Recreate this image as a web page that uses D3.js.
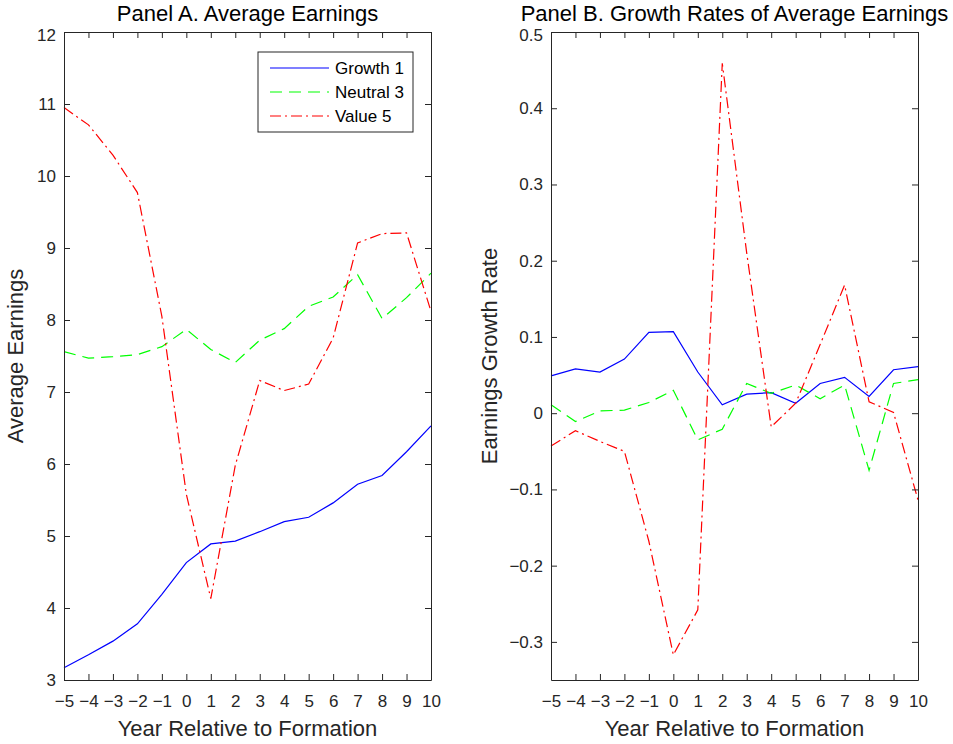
<!DOCTYPE html>
<html>
<head>
<meta charset="utf-8">
<script src="https://cdn.jsdelivr.net/npm/d3@7"></script>
<style>
  body { margin: 0; background: #fff; }
  text { font-family: 'Liberation Sans', Arial, Helvetica, sans-serif; }
</style>
</head>
<body>
<svg id="canvas"></svg>
<script>
// years relative to formation
const years = [-5, -4, -3, -2, -1, 0, 1, 2, 3, 4, 5, 6, 7, 8, 9, 10];

// Panel A: average earnings
const growthEarn  = [3.17, 3.35, 3.54, 3.78, 4.19, 4.63, 4.89, 4.93, 5.06, 5.20, 5.26, 5.46, 5.72, 5.84, 6.17, 6.53];
const neutralEarn = [7.56, 7.47, 7.49, 7.52, 7.63, 7.87, 7.59, 7.41, 7.72, 7.88, 8.19, 8.32, 8.63, 8.02, 8.31, 8.65];
const valueEarn   = [10.95, 10.71, 10.29, 9.77, 8.05, 5.58, 4.13, 5.98, 7.16, 7.02, 7.11, 7.75, 9.07, 9.20, 9.21, 8.12];

// Panel B: growth rates of average earnings
const growthRate  = [0.049, 0.058, 0.054, 0.071, 0.106, 0.107, 0.054, 0.011, 0.025, 0.027, 0.013, 0.039, 0.047, 0.022, 0.057, 0.061];
const neutralRate = [0.011, -0.011, 0.003, 0.004, 0.014, 0.030, -0.035, -0.021, 0.039, 0.026, 0.037, 0.019, 0.037, -0.075, 0.039, 0.044];
const valueRate   = [-0.043, -0.023, -0.037, -0.050, -0.168, -0.317, -0.258, 0.459, 0.210, -0.018, 0.013, 0.090, 0.168, 0.015, 0.001, -0.114];

const seriesNames = ['Growth 1', 'Neutral 3', 'Value 5'];
const yTicksA = [3, 4, 5, 6, 7, 8, 9, 10, 11, 12];
const yTicksB = [-0.3, -0.2, -0.1, 0, 0.1, 0.2, 0.3, 0.4, 0.5];

const width = 953;
const height = 744;
const axisColor = '#262626';
const styles = [
  { color: '#0000ff', dash: null },
  { color: '#00ff00', dash: '12,7' },
  { color: '#ff0000', dash: '11,4,2,4' }
];

const svg = d3.select('#canvas')
  .attr('width', width)
  .attr('height', height);

const plotTop = 32, plotBottom = 680;

const drawPanel = (opts) => {
  const xScale = d3.scaleLinear().domain([-5, 10]).range([opts.left, opts.right]);
  const yScale = d3.scaleLinear().domain(opts.yDomain).range([plotBottom, plotTop]);
  const g = svg.append('g');

  const styleAxis = (sel) => {
    sel.select('.domain').attr('stroke', axisColor).attr('stroke-width', 1);
    sel.selectAll('.tick line').attr('stroke', axisColor);
    sel.selectAll('.tick text')
      .attr('fill', axisColor)
      .style('font-size', '17px')
      .style('font-family', "'Liberation Sans', Arial, sans-serif");
  };

  // lines first so the frame sits on top
  const line = d3.line()
    .x((d, i) => xScale(years[i]))
    .y(d => yScale(d));

  opts.series.forEach((vals, k) => {
    g.append('path')
      .datum(vals)
      .attr('fill', 'none')
      .attr('stroke', styles[k].color)
      .attr('stroke-width', 1.2)
      .attr('stroke-dasharray', styles[k].dash)
      .attr('d', line);
  });

  g.append('g')
    .attr('transform', 'translate(0,' + plotBottom + ')')
    .call(d3.axisBottom(xScale).tickValues(years).tickFormat(d3.format('d'))
      .tickSizeInner(-6).tickSizeOuter(0).tickPadding(15))
    .call(styleAxis);

  g.append('g')
    .attr('transform', 'translate(0,' + plotTop + ')')
    .call(d3.axisTop(xScale).tickValues(years).tickFormat('')
      .tickSizeInner(-6).tickSizeOuter(0))
    .call(styleAxis);

  const yAxisG = g.append('g')
    .attr('transform', 'translate(' + opts.left + ',0)')
    .call(d3.axisLeft(yScale).tickValues(opts.yTicks).tickFormat(opts.fmt)
      .tickSizeInner(-6).tickSizeOuter(0).tickPadding(8))
    .call(styleAxis);
  // top label sits a little lower, as in the original
  yAxisG.selectAll('.tick text')
    .filter(d => d === opts.yDomain[1])
    .attr('dy', '0.5em');

  g.append('g')
    .attr('transform', 'translate(' + opts.right + ',0)')
    .call(d3.axisRight(yScale).tickValues(opts.yTicks).tickFormat('')
      .tickSizeInner(-6).tickSizeOuter(0))
    .call(styleAxis);

  const cx = (opts.left + opts.right) / 2;

  g.append('text')
    .attr('x', cx)
    .attr('y', 21)
    .attr('text-anchor', 'middle')
    .style('font-size', '22px')
    .attr('fill', '#000')
    .text(opts.title);

  g.append('text')
    .attr('x', cx)
    .attr('y', 736)
    .attr('text-anchor', 'middle')
    .style('font-size', '22px')
    .attr('fill', axisColor)
    .text('Year Relative to Formation');

  g.append('text')
    .attr('transform', 'translate(' + opts.ylabelX + ',' + ((plotTop + plotBottom) / 2) + ') rotate(-90)')
    .attr('text-anchor', 'middle')
    .style('font-size', '22px')
    .attr('fill', axisColor)
    .text(opts.ylabel);

  return g;
};

const panelA = drawPanel({
  left: 64, right: 431,
  yDomain: [3, 12], yTicks: yTicksA, fmt: d3.format('d'),
  series: [growthEarn, neutralEarn, valueEarn],
  title: 'Panel A. Average Earnings',
  ylabel: 'Average Earnings', ylabelX: 23
});

drawPanel({
  left: 551, right: 918,
  yDomain: [-0.35, 0.5], yTicks: yTicksB,
  fmt: d => d === 0 ? '0' : d3.format('.1f')(d),
  series: [growthRate, neutralRate, valueRate],
  title: 'Panel B. Growth Rates of Average Earnings',
  ylabel: 'Earnings Growth Rate', ylabelX: 497
});

// legend in panel A
const legend = panelA.append('g').attr('transform', 'translate(258,52)');
legend.append('rect')
  .attr('width', 155).attr('height', 80)
  .attr('fill', '#fff')
  .attr('stroke', axisColor)
  .attr('stroke-width', 1);

seriesNames.forEach((name, k) => {
  const y = 16 + k * 24;
  legend.append('line')
    .attr('x1', 12).attr('x2', 71)
    .attr('y1', y).attr('y2', y)
    .attr('stroke', styles[k].color)
    .attr('stroke-width', 1.2)
    .attr('stroke-dasharray', styles[k].dash);
  legend.append('text')
    .attr('x', 77).attr('y', y)
    .attr('dy', '0.35em')
    .style('font-size', '17px')
    .attr('fill', '#000')
    .text(name);
});
</script>
</body>
</html>
